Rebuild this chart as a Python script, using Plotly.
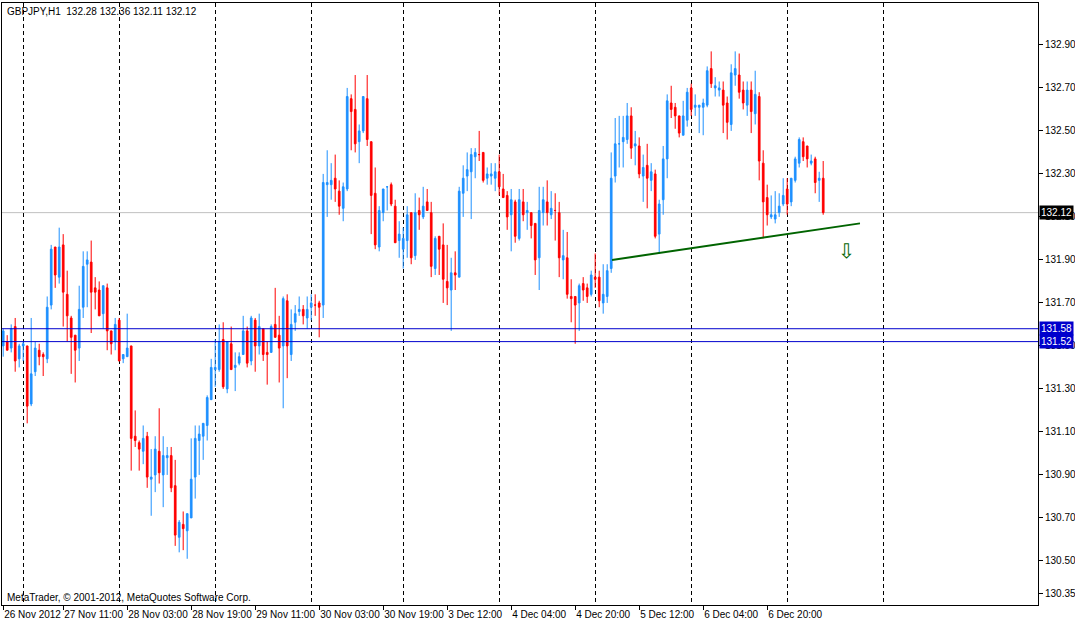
"""GBPJPY H1 candlestick chart in the MetaTrader 4 style, drawn with Plotly."""

import plotly.graph_objects as go

SYMBOL = "GBPJPY,H1"

# hourly bars (bar 0 = 26 Nov 2012 20:00)
opens = [
    131.50, 131.52, 131.49, 131.59, 131.44, 131.50, 131.50, 131.23, 131.38, 131.48,
    131.46, 131.44, 131.69, 131.96, 131.82, 131.97, 131.74, 131.63, 131.55, 131.49,
    131.68, 131.88, 131.89, 131.77, 131.76, 131.65, 131.77, 131.57, 131.52, 131.62,
    131.44, 131.45, 131.50, 131.08, 131.05, 131.01, 131.08, 130.88, 130.90, 131.01,
    130.90, 130.98, 130.99, 130.85, 130.61, 130.67, 130.64, 130.70, 130.89, 131.06,
    131.08, 131.13, 131.25, 131.39, 131.39, 131.53, 131.30, 131.51, 131.40, 131.42,
    131.46, 131.57, 131.43, 131.62, 131.50, 131.58, 131.47, 131.47, 131.60, 131.55,
    131.50, 131.71, 131.46, 131.61, 131.66, 131.67, 131.63, 131.68, 131.69, 131.70,
    131.69, 132.25, 132.25, 132.28, 132.22, 132.14, 132.23, 132.65, 132.60, 132.45,
    132.50, 132.65, 132.45, 132.21, 131.96, 132.12, 132.24, 132.25, 132.15, 131.99,
    131.95, 131.99, 132.12, 131.92, 132.13, 132.10, 132.17, 132.12, 131.86, 132.01,
    131.97, 131.80, 131.76, 131.84, 131.82, 132.21, 132.29, 132.31, 132.38, 132.39,
    132.40, 132.28, 132.29, 132.28, 132.31, 132.23, 132.20, 132.11, 132.17, 132.00,
    132.17, 132.12, 132.12, 132.07, 131.91, 132.12, 132.17, 132.11, 132.13, 132.12,
    131.90, 131.91, 131.73, 131.73, 131.70, 131.79, 131.77, 131.74, 131.82, 131.82,
    131.70, 131.73, 131.86, 132.29, 132.44, 132.45, 132.46, 132.57, 132.43, 132.43,
    132.29, 132.34, 132.27, 132.30, 132.02, 132.18, 132.37, 132.63, 132.61, 132.57,
    132.48, 132.55, 132.70, 132.61, 132.61, 132.61, 132.62, 132.79, 132.70, 132.69,
    132.69, 132.63, 132.53, 132.76, 132.76, 132.69, 132.62, 132.69, 132.58, 132.66,
    132.35, 132.19, 132.10, 132.09, 132.12, 132.16, 132.23, 132.17, 132.27, 132.35,
    132.45, 132.43, 132.35, 132.37, 132.27, 132.28,
]
highs = [
    131.58, 131.55, 131.60, 131.63, 131.51, 131.52, 131.50, 131.63, 131.52, 131.51,
    131.47, 131.73, 131.97, 131.96, 132.05, 132.02, 131.85, 131.64, 131.55, 131.78,
    131.94, 131.94, 131.99, 131.82, 131.80, 131.78, 131.79, 131.57, 131.63, 131.63,
    131.46, 131.65, 131.50, 131.20, 131.06, 131.13, 131.10, 131.02, 131.08, 131.21,
    131.08, 131.03, 131.03, 130.97, 130.69, 130.73, 130.72, 131.07, 131.13, 131.13,
    131.14, 131.27, 131.44, 131.53, 131.60, 131.61, 131.52, 131.59, 131.47, 131.47,
    131.64, 131.59, 131.64, 131.63, 131.65, 131.58, 131.52, 131.60, 131.77, 131.64,
    131.73, 131.74, 131.67, 131.69, 131.73, 131.69, 131.73, 131.74, 131.74, 131.71,
    132.30, 132.41, 132.35, 132.39, 132.27, 132.26, 132.70, 132.67, 132.76, 132.53,
    132.66, 132.76, 132.45, 132.33, 132.15, 132.23, 132.24, 132.26, 132.18, 132.08,
    132.05, 132.15, 132.12, 132.21, 132.19, 132.24, 132.23, 132.17, 132.01, 132.01,
    132.07, 131.97, 131.91, 131.94, 132.24, 132.34, 132.40, 132.42, 132.42, 132.50,
    132.40, 132.33, 132.35, 132.35, 132.39, 132.30, 132.22, 132.23, 132.18, 132.23,
    132.23, 132.17, 132.12, 132.07, 132.24, 132.24, 132.27, 132.22, 132.21, 132.17,
    132.04, 132.03, 131.81, 131.73, 131.79, 131.82, 131.79, 131.85, 131.93, 131.85,
    131.88, 131.88, 132.40, 132.56, 132.57, 132.57, 132.63, 132.61, 132.50, 132.47,
    132.39, 132.44, 132.35, 132.32, 132.18, 132.43, 132.67, 132.71, 132.63, 132.57,
    132.64, 132.70, 132.72, 132.67, 132.62, 132.65, 132.80, 132.87, 132.75, 132.73,
    132.73, 132.66, 132.81, 132.87, 132.86, 132.73, 132.73, 132.73, 132.78, 132.68,
    132.41, 132.25, 132.20, 132.22, 132.21, 132.28, 132.28, 132.28, 132.38, 132.47,
    132.47, 132.43, 132.39, 132.38, 132.31, 132.36,
]
lows = [
    131.45, 131.48, 131.47, 131.38, 131.40, 131.43, 131.14, 131.22, 131.36, 131.41,
    131.36, 131.42, 131.67, 131.77, 131.79, 131.59, 131.52, 131.37, 131.33, 131.43,
    131.63, 131.68, 131.56, 131.67, 131.64, 131.58, 131.48, 131.46, 131.48, 131.43,
    131.42, 131.45, 130.92, 131.03, 130.92, 130.95, 130.84, 130.71, 130.82, 130.86,
    130.75, 130.90, 130.82, 130.57, 130.54, 130.55, 130.51, 130.70, 130.79, 130.90,
    130.97, 131.06, 131.25, 131.31, 131.38, 131.30, 131.28, 131.39, 131.29, 131.41,
    131.46, 131.40, 131.41, 131.38, 131.46, 131.43, 131.32, 131.47, 131.54, 131.33,
    131.21, 131.35, 131.43, 131.57, 131.64, 131.60, 131.58, 131.62, 131.64, 131.54,
    131.63, 132.10, 132.18, 132.17, 132.11, 132.08, 132.22, 132.41, 132.40, 132.35,
    132.49, 132.43, 132.02, 131.95, 131.94, 132.08, 132.13, 132.15, 131.98, 131.91,
    131.86, 131.91, 131.88, 131.90, 132.04, 132.09, 132.13, 131.82, 131.83, 131.83,
    131.70, 131.69, 131.57, 131.76, 131.82, 132.10, 132.22, 132.09, 132.28, 132.36,
    132.26, 132.25, 132.25, 132.22, 132.20, 132.19, 132.04, 131.94, 131.98, 131.99,
    132.08, 132.04, 132.00, 131.83, 131.76, 132.06, 132.06, 132.09, 131.99, 131.82,
    131.81, 131.72, 131.61, 131.51, 131.57, 131.71, 131.70, 131.73, 131.77, 131.68,
    131.65, 131.70, 131.84, 132.26, 132.33, 132.33, 132.44, 132.37, 132.34, 132.28,
    132.17, 132.14, 132.22, 132.00, 131.93, 132.11, 132.28, 132.56, 132.51, 132.47,
    132.48, 132.52, 132.57, 132.57, 132.49, 132.48, 132.61, 132.70, 132.66, 132.66,
    132.49, 132.46, 132.50, 132.71, 132.65, 132.60, 132.57, 132.49, 132.53, 132.27,
    132.00, 132.06, 132.09, 132.07, 132.10, 132.15, 132.11, 132.15, 132.26, 132.33,
    132.36, 132.33, 132.34, 132.21, 132.17, 132.11,
]
closes = [
    131.57, 131.48, 131.58, 131.43, 131.50, 131.51, 131.22, 131.37, 131.49, 131.45,
    131.45, 131.68, 131.95, 131.83, 131.96, 131.75, 131.64, 131.54, 131.48, 131.67,
    131.87, 131.90, 131.75, 131.75, 131.64, 131.78, 131.57, 131.51, 131.60, 131.43,
    131.46, 131.49, 131.07, 131.06, 131.02, 131.07, 130.89, 130.89, 131.02, 130.91,
    130.99, 130.99, 130.84, 130.62, 130.68, 130.65, 130.72, 130.88, 131.07, 131.09,
    131.14, 131.26, 131.40, 131.40, 131.52, 131.31, 131.52, 131.39, 131.41, 131.45,
    131.57, 131.42, 131.63, 131.50, 131.59, 131.46, 131.46, 131.59, 131.54, 131.49,
    131.72, 131.50, 131.60, 131.65, 131.67, 131.64, 131.67, 131.70, 131.69, 131.68,
    132.26, 132.26, 132.27, 132.23, 132.15, 132.24, 132.66, 132.59, 132.44, 132.50,
    132.66, 132.46, 132.20, 131.97, 132.13, 132.23, 132.24, 132.16, 131.98, 132.02,
    132.00, 132.11, 131.91, 132.12, 132.11, 132.15, 132.13, 131.87, 132.00, 131.95,
    131.81, 131.77, 131.84, 131.83, 132.22, 132.28, 132.32, 132.39, 132.40, 132.39,
    132.27, 132.30, 132.30, 132.31, 132.24, 132.19, 132.10, 132.18, 132.01, 132.18,
    132.11, 132.13, 132.06, 131.90, 132.13, 132.18, 132.12, 132.14, 132.13, 131.91,
    131.92, 131.74, 131.72, 131.69, 131.78, 131.76, 131.73, 131.83, 131.81, 131.71,
    131.74, 131.85, 132.28, 132.44, 132.44, 132.47, 132.57, 132.42, 132.44, 132.30,
    132.33, 132.28, 132.31, 132.01, 132.16, 132.37, 132.64, 132.60, 132.57, 132.49,
    132.57, 132.68, 132.60, 132.62, 132.62, 132.63, 132.78, 132.72, 132.71, 132.70,
    132.62, 132.54, 132.77, 132.79, 132.68, 132.63, 132.69, 132.59, 132.67, 132.36,
    132.17, 132.11, 132.11, 132.11, 132.15, 132.20, 132.16, 132.28, 132.37, 132.46,
    132.38, 132.37, 132.36, 132.26, 132.28, 132.12,
]
bars = list(range(len(opens)))

# time axis labels (bar number -> text)
label_bars = [0, 15, 31, 47, 63, 79, 95, 111, 127, 143, 159, 175, 191]
label_texts = [
    "26 Nov 2012", "27 Nov 11:00", "28 Nov 03:00", "28 Nov 19:00",
    "29 Nov 11:00", "30 Nov 03:00", "30 Nov 19:00", "3 Dec 12:00",
    "4 Dec 04:00", "4 Dec 20:00", "5 Dec 12:00", "6 Dec 04:00", "6 Dec 20:00",
]
separator_bars = [5, 29, 53, 77, 100, 124, 148, 172, 196, 220]

price_ticks = [132.90, 132.70, 132.50, 132.30, 132.10, 131.90, 131.70,
               131.50, 131.30, 131.10, 130.90, 130.70, 130.50, 130.35]

# horizontal levels and the support trend line
bid_price = 132.12
level_prices = [131.58, 131.52]
trend_bars = [152.2, 214.2]
trend_prices = [131.90, 132.07]
arrow_bar = 210.8
arrow_price = 131.94

BULL = "#1E90FF"
BEAR = "#FF0000"
LEVEL_BLUE = "#0000CD"
TREND_GREEN = "#006400"
FONT = "Liberation Sans, Arial, sans-serif"


def main() -> None:
    fig = go.Figure()

    fig.add_trace(
        go.Candlestick(
            x=bars,
            open=opens,
            high=highs,
            low=lows,
            close=closes,
            increasing=dict(line=dict(color=BULL, width=1), fillcolor=BULL),
            decreasing=dict(line=dict(color=BEAR, width=1), fillcolor=BEAR),
            whiskerwidth=0,
            showlegend=False,
            hoverinfo="skip",
        )
    )

    fig.add_trace(
        go.Scatter(
            x=trend_bars,
            y=trend_prices,
            mode="lines",
            line=dict(color=TREND_GREEN, width=2),
            showlegend=False,
            hoverinfo="skip",
        )
    )

    # bid line and the two blue levels
    fig.add_shape(type="line", xref="paper", x0=0, x1=1, y0=bid_price, y1=bid_price,
                  line=dict(color="#C0C0C0", width=1), layer="below")
    for level in level_prices:
        fig.add_shape(type="line", xref="paper", x0=0, x1=1, y0=level, y1=level,
                      line=dict(color=LEVEL_BLUE, width=1))

    # price tags on the scale
    tags = [(bid_price, "black")] + [(p, LEVEL_BLUE) for p in level_prices]
    for price, colour in tags:
        fig.add_annotation(
            x=1, xref="paper", y=price, yref="y", xanchor="left", xshift=1,
            text=f"{price:.2f}", showarrow=False, bgcolor=colour, borderpad=1,
            font=dict(family=FONT, size=10, color="white"),
        )

    fig.add_annotation(
        x=arrow_bar, y=arrow_price, text="\u21e9", showarrow=False,
        font=dict(family="DejaVu Sans", size=20, color=TREND_GREEN),
    )

    header = "{}  {:.2f} {:.2f} {:.2f} {:.2f}".format(
        SYMBOL, opens[-1], highs[-1], lows[-1], closes[-1])
    fig.add_annotation(
        x=0, xref="paper", y=1, yref="paper", xanchor="left", yanchor="top",
        xshift=3, yshift=-1, text=header, showarrow=False,
        font=dict(family=FONT, size=10, color="black"),
    )
    fig.add_annotation(
        x=0, xref="paper", y=0, yref="paper", xanchor="left", yanchor="bottom",
        xshift=3, yshift=0, text="MetaTrader, \u00a9 2001-2012, MetaQuotes Software Corp.",
        showarrow=False, font=dict(family=FONT, size=10, color="black"),
    )

    fig.update_layout(
        width=1075,
        height=623,
        margin=dict(l=2, r=37, t=3, b=18),
        paper_bgcolor="white",
        plot_bgcolor="white",
        font=dict(family=FONT, size=10, color="black"),
        boxgap=0.4,
        hovermode=False,
        showlegend=False,
    )
    fig.update_xaxes(
        range=[-0.3, 258.7],
        rangeslider=dict(visible=False),
        automargin=False,
        showgrid=False,
        zeroline=False,
        showline=True,
        mirror=True,
        linecolor="black",
        linewidth=1,
        tickmode="array",
        tickvals=label_bars,
        ticktext=label_texts,
        tickangle=0,
        ticks="outside",
        ticklen=4,
        tickcolor="black",
        ticklabelposition="outside right",
        tickfont=dict(family=FONT, size=10, color="black"),
        minor=dict(
            tickmode="array",
            tickvals=separator_bars,
            showgrid=True,
            gridcolor="black",
            gridwidth=1,
            griddash="4px,3px",
            ticks="",
        ),
    )
    fig.update_yaxes(
        range=[130.295, 133.095],
        side="right",
        automargin=False,
        showgrid=False,
        zeroline=False,
        showline=True,
        mirror=True,
        linecolor="black",
        linewidth=1,
        tickmode="array",
        tickvals=price_ticks,
        ticktext=[f"{p:.2f}" for p in price_ticks],
        ticks="outside",
        ticklen=4,
        tickcolor="black",
        tickfont=dict(family=FONT, size=10, color="black"),
    )

    # the page body has a default 8px margin; drop it so the chart fills the window
    fig.write_html(
        "out.html",
        config={"displayModeBar": False},
        post_script="document.body.style.margin = '0';",
    )


if __name__ == "__main__":
    main()
